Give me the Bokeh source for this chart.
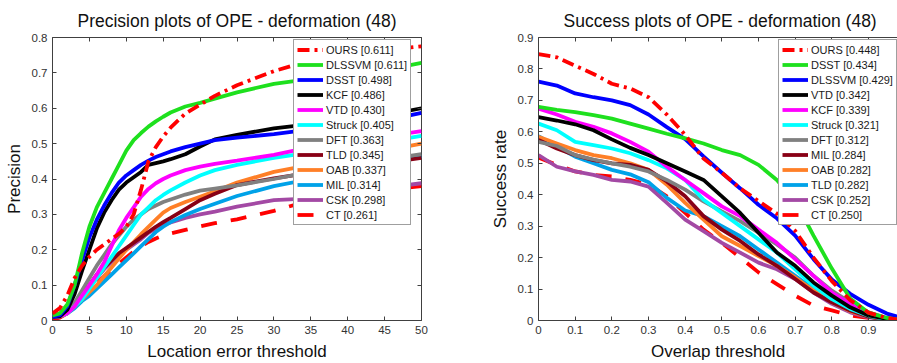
from bokeh.plotting import figure
from bokeh.layouts import row
from bokeh.models import Range1d, LinearAxis, FixedTicker, Legend, LegendItem, CustomLabelingPolicy
from bokeh.embed import file_html
from bokeh.resources import INLINE

# ---------------- Precision plot data ----------------
prec_x = [0, 1, 2, 3, 4, 5, 6, 7, 8, 9, 10, 11, 12, 13, 14, 15, 16, 18, 20, 22, 25, 30, 35, 40, 45, 50]
prec_names = ["OURS", "DLSSVM", "DSST", "KCF", "VTD", "Struck", "DFT", "TLD", "OAB", "MIL", "CSK", "CT"]
prec_scores = ["0.611", "0.611", "0.498", "0.486", "0.430", "0.405", "0.363", "0.345", "0.337", "0.314", "0.298", "0.261"]
prec_ours = [0.02, 0.035, 0.07, 0.12, 0.155, 0.18, 0.2, 0.215, 0.23, 0.245, 0.265, 0.30, 0.37, 0.45, 0.49, 0.52, 0.545, 0.585, 0.61, 0.635, 0.665, 0.705, 0.735, 0.75, 0.765, 0.775]
prec_dlssvm = [0.014, 0.02, 0.045, 0.1, 0.19, 0.265, 0.32, 0.36, 0.40, 0.44, 0.48, 0.51, 0.53, 0.548, 0.563, 0.576, 0.588, 0.605, 0.615, 0.627, 0.645, 0.669, 0.683, 0.695, 0.708, 0.728]
prec_dsst = [0.01, 0.015, 0.04, 0.1, 0.17, 0.235, 0.285, 0.325, 0.36, 0.39, 0.41, 0.425, 0.44, 0.452, 0.462, 0.47, 0.478, 0.49, 0.5, 0.51, 0.517, 0.527, 0.54, 0.55, 0.565, 0.587]
prec_kcf = [0.01, 0.012, 0.03, 0.075, 0.14, 0.2, 0.26, 0.305, 0.34, 0.37, 0.39, 0.405, 0.42, 0.44, 0.445, 0.45, 0.456, 0.47, 0.492, 0.512, 0.525, 0.543, 0.555, 0.565, 0.58, 0.6]
prec_vtd = [0.01, 0.012, 0.02, 0.04, 0.07, 0.1, 0.13, 0.165, 0.21, 0.255, 0.29, 0.32, 0.35, 0.372, 0.388, 0.4, 0.41, 0.425, 0.435, 0.443, 0.452, 0.468, 0.49, 0.505, 0.52, 0.535]
prec_struck = [0.01, 0.012, 0.02, 0.04, 0.06, 0.09, 0.12, 0.15, 0.18, 0.21, 0.24, 0.27, 0.3, 0.32, 0.34, 0.355, 0.368, 0.39, 0.41, 0.425, 0.44, 0.46, 0.475, 0.49, 0.505, 0.522]
prec_dft = [0.01, 0.012, 0.025, 0.05, 0.085, 0.12, 0.155, 0.185, 0.215, 0.24, 0.265, 0.285, 0.3, 0.315, 0.325, 0.335, 0.342, 0.356, 0.367, 0.373, 0.382, 0.4, 0.42, 0.44, 0.455, 0.47]
prec_tld = [0.01, 0.012, 0.025, 0.045, 0.075, 0.1, 0.13, 0.15, 0.17, 0.19, 0.205, 0.22, 0.235, 0.25, 0.265, 0.278, 0.29, 0.315, 0.34, 0.358, 0.383, 0.402, 0.418, 0.432, 0.445, 0.46]
prec_oab = [0.01, 0.012, 0.02, 0.04, 0.06, 0.08, 0.1, 0.125, 0.15, 0.175, 0.2, 0.222, 0.244, 0.265, 0.285, 0.305, 0.318, 0.335, 0.35, 0.365, 0.39, 0.42, 0.44, 0.46, 0.48, 0.5]
prec_mil = [0.01, 0.012, 0.02, 0.035, 0.055, 0.07, 0.09, 0.11, 0.13, 0.15, 0.17, 0.19, 0.21, 0.23, 0.25, 0.265, 0.278, 0.298, 0.315, 0.33, 0.352, 0.38, 0.4, 0.425, 0.445, 0.465]
prec_csk = [0.01, 0.012, 0.025, 0.045, 0.07, 0.095, 0.12, 0.145, 0.165, 0.185, 0.2, 0.215, 0.23, 0.248, 0.26, 0.27, 0.277, 0.29, 0.3, 0.308, 0.322, 0.34, 0.345, 0.36, 0.375, 0.388]
prec_ct = [0.003, 0.008, 0.02, 0.04, 0.06, 0.085, 0.105, 0.125, 0.145, 0.16, 0.178, 0.195, 0.21, 0.222, 0.232, 0.24, 0.246, 0.256, 0.266, 0.275, 0.286, 0.31, 0.34, 0.355, 0.368, 0.38]
prec_series = [prec_ours, prec_dlssvm, prec_dsst, prec_kcf, prec_vtd, prec_struck,
               prec_dft, prec_tld, prec_oab, prec_mil, prec_csk, prec_ct]

# ---------------- Success plot data ----------------
succ_x = [0, 0.05, 0.1, 0.15, 0.2, 0.25, 0.3, 0.35, 0.4, 0.45, 0.5, 0.55, 0.6, 0.65, 0.7, 0.75, 0.8, 0.85, 0.9, 0.95, 1.0]
succ_names = ["OURS", "DSST", "DLSSVM", "VTD", "KCF", "Struck", "DFT", "MIL", "OAB", "TLD", "CSK", "CT"]
succ_scores = ["0.448", "0.434", "0.429", "0.342", "0.339", "0.321", "0.312", "0.284", "0.282", "0.282", "0.252", "0.250"]
succ_ours = [0.847, 0.837, 0.81, 0.784, 0.753, 0.738, 0.71, 0.655, 0.59, 0.515, 0.47, 0.42, 0.38, 0.34, 0.285, 0.2, 0.125, 0.065, 0.025, 0.008, 0.0]
succ_dsst = [0.679, 0.67, 0.663, 0.653, 0.642, 0.626, 0.61, 0.594, 0.579, 0.563, 0.542, 0.526, 0.495, 0.447, 0.38, 0.27, 0.165, 0.07, 0.025, 0.008, 0.0]
succ_dlssvm = [0.76, 0.747, 0.722, 0.71, 0.7, 0.685, 0.655, 0.615, 0.577, 0.522, 0.47, 0.42, 0.368, 0.325, 0.27, 0.195, 0.13, 0.085, 0.05, 0.022, 0.005]
succ_vtd = [0.647, 0.636, 0.624, 0.605, 0.576, 0.549, 0.526, 0.5, 0.474, 0.447, 0.395, 0.342, 0.279, 0.216, 0.174, 0.121, 0.079, 0.042, 0.016, 0.005, 0.0]
succ_kcf = [0.674, 0.655, 0.632, 0.616, 0.595, 0.568, 0.537, 0.489, 0.447, 0.405, 0.363, 0.332, 0.289, 0.247, 0.195, 0.142, 0.089, 0.053, 0.02, 0.006, 0.0]
succ_struck = [0.626, 0.605, 0.568, 0.558, 0.547, 0.532, 0.51, 0.484, 0.447, 0.384, 0.342, 0.3, 0.258, 0.216, 0.163, 0.11, 0.068, 0.037, 0.015, 0.004, 0.0]
succ_dft = [0.568, 0.555, 0.526, 0.512, 0.5, 0.489, 0.474, 0.447, 0.416, 0.379, 0.347, 0.316, 0.279, 0.242, 0.2, 0.142, 0.095, 0.058, 0.026, 0.008, 0.0]
succ_mil = [0.574, 0.547, 0.526, 0.51, 0.5, 0.495, 0.479, 0.442, 0.395, 0.332, 0.289, 0.253, 0.21, 0.174, 0.132, 0.089, 0.058, 0.032, 0.012, 0.003, 0.0]
succ_oab = [0.584, 0.563, 0.542, 0.526, 0.516, 0.5, 0.479, 0.432, 0.374, 0.321, 0.268, 0.237, 0.205, 0.174, 0.137, 0.095, 0.058, 0.03, 0.012, 0.003, 0.0]
succ_tld = [0.586, 0.553, 0.521, 0.5, 0.479, 0.465, 0.44, 0.39, 0.35, 0.332, 0.3, 0.268, 0.226, 0.184, 0.142, 0.1, 0.063, 0.037, 0.015, 0.004, 0.0]
succ_csk = [0.526, 0.489, 0.474, 0.463, 0.447, 0.442, 0.426, 0.374, 0.321, 0.284, 0.247, 0.216, 0.184, 0.163, 0.132, 0.089, 0.053, 0.026, 0.01, 0.003, 0.0]
succ_ct = [0.518, 0.495, 0.474, 0.463, 0.458, 0.447, 0.432, 0.395, 0.342, 0.289, 0.247, 0.2, 0.153, 0.116, 0.079, 0.047, 0.032, 0.016, 0.008, 0.003, 0.0]
succ_series = [succ_ours, succ_dsst, succ_dlssvm, succ_vtd, succ_kcf, succ_struck,
               succ_dft, succ_mil, succ_oab, succ_tld, succ_csk, succ_ct]

prec_xticks = [0, 5, 10, 15, 20, 25, 30, 35, 40, 45, 50]
prec_yticks = [0, 0.1, 0.2, 0.3, 0.4, 0.5, 0.6, 0.7, 0.8]
succ_xticks = [0, 0.1, 0.2, 0.3, 0.4, 0.5, 0.6, 0.7, 0.8, 0.9]
succ_yticks = [0, 0.1, 0.2, 0.3, 0.4, 0.5, 0.6, 0.7, 0.8, 0.9]

# styles by rank
rank_colors = ["#FF0000", "#1EE01E", "#0000FF", "#000000", "#FF00FF", "#00FFFF",
               "#808080", "#880015", "#FF7F27", "#00A2E8", "#A349A4", "#FF0000"]
rank_dash = ["12 5 3 5"] + ["solid"] * 10 + ["16 14"]

FONT = "Liberation Sans"
AXC = "#404040"


def style_axis(ax, ticks, show_labels=True, line=True):
    ax.ticker = FixedTicker(ticks=ticks)
    ax.major_tick_in = 4
    ax.major_tick_out = 0
    ax.minor_tick_line_color = None
    ax.major_tick_line_color = AXC
    ax.axis_line_color = AXC if line else None
    ax.major_label_text_font = FONT
    ax.major_label_text_color = "#333333"
    if show_labels:
        ax.major_label_text_font_size = "11.5px"
        ax.major_label_standoff = 5
        ax.major_label_overrides = {t: ("%g" % t) for t in ticks}
    else:
        ax.major_label_text_font_size = "1px"
        ax.major_label_standoff = 0
        ax.major_label_policy = CustomLabelingPolicy(code="return []")
    ax.axis_label_text_font = FONT
    ax.axis_label_text_font_style = "normal"
    ax.axis_label_text_font_size = "17px"
    ax.axis_label_text_color = "#111111"
    ax.axis_label_standoff = 5


def make_fig(title, xs, series, names, scores, xr, yr, xticks, yticks, xlabel, ylabel,
             width, mb_left, mb_right, legend_loc, box, title_align, title_offset):
    p = figure(width=width, height=363, output_backend="svg", toolbar_location=None,
               x_range=Range1d(*xr), y_range=Range1d(*yr),
               min_border_left=mb_left, min_border_right=mb_right,
               min_border_top=37, min_border_bottom=41, x_axis_type=None, y_axis_type=None)
    p.grid.visible = False
    p.background_fill_color = "white"
    p.border_fill_color = "white"
    p.outline_line_color = AXC if box else None

    p.title.text = title
    p.title.text_font = FONT
    p.title.text_font_size = "17.5px"
    p.title.text_font_style = "normal"
    p.title.text_color = "#111111"
    p.title.align = title_align
    p.title.offset = title_offset
    p.title.standoff = 6

    xa = LinearAxis(axis_label=xlabel)
    style_axis(xa, xticks, True, not box)
    p.add_layout(xa, "below")
    ya = LinearAxis(axis_label=ylabel)
    style_axis(ya, yticks, True, not box)
    p.add_layout(ya, "left")
    ta = LinearAxis()
    style_axis(ta, xticks, False, not box)
    p.add_layout(ta, "above")
    if box:
        ra = LinearAxis()
        style_axis(ra, yticks, False, False)
        p.add_layout(ra, "right")

    renderers = [None] * len(series)
    for i in reversed(range(len(series))):
        renderers[i] = p.line(xs, series[i], line_color=rank_colors[i], line_width=3.8,
                              line_dash=rank_dash[i])
    items = [LegendItem(label="%s [%s]" % (names[i], scores[i]), renderers=[renderers[i]])
             for i in range(len(series))]
    lg = Legend(items=items, location=legend_loc)
    lg.label_text_font = FONT
    lg.label_text_font_size = "11px"
    lg.label_text_color = "#1a1a1a"
    lg.glyph_width = 26
    lg.glyph_height = 13
    lg.label_height = 13
    lg.label_standoff = 3
    lg.spacing = 2
    lg.padding = 3
    lg.margin = 0
    lg.border_line_color = AXC
    lg.border_line_width = 1
    lg.background_fill_color = "white"
    lg.background_fill_alpha = 1.0
    p.add_layout(lg)
    return p


p1 = make_fig("Precision plots of OPE - deformation (48)", prec_x, prec_series, prec_names, prec_scores,
              (0, 50), (0, 0.8), prec_xticks, prec_yticks, "Location error threshold", "Precision",
              450, 52, 29, (241, 95), True, "center", 0)
p2 = make_fig("Success plots of OPE - deformation (48)", succ_x, succ_series, succ_names, succ_scores,
              (0, 0.979), (0, 0.9), succ_xticks, succ_yticks, "Overlap threshold", "Success rate",
              447, 88, 0, (240, 95), False, "left", 25)

layout = row(p1, p2)
open("out.html", "w").write(file_html(layout, INLINE))
